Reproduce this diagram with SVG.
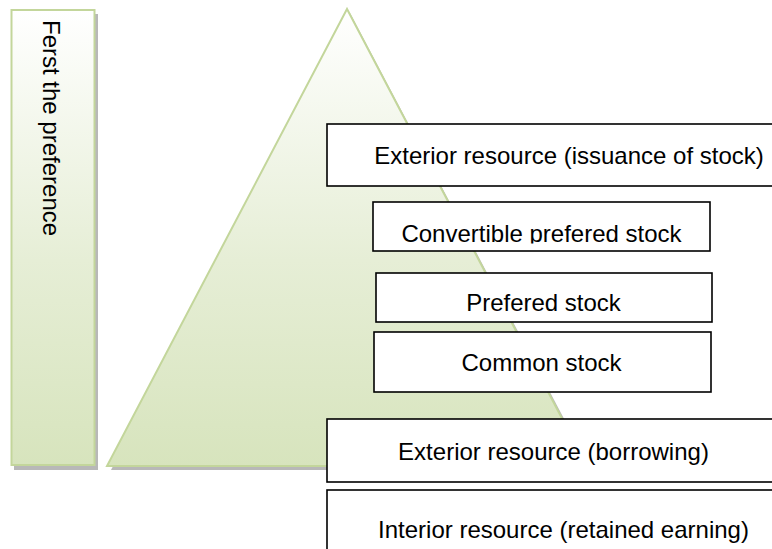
<svg xmlns="http://www.w3.org/2000/svg" width="772" height="549" viewBox="0 0 772 549">
  <style>
    .box { fill: #ffffff; stroke: #000000; stroke-width: 1.6; }
    .lbl { font-family: "Liberation Sans", Arial, sans-serif; font-size: 24px; fill: #000000; }
    .mid { text-anchor: middle; }
    .green { stroke: #c3d69b; stroke-width: 2; }
    .shadow { fill: #9a9a9a; opacity: 0.7; }
  </style>
  <defs>
    <linearGradient id="gBar" x1="0" y1="0" x2="0" y2="1">
      <stop offset="0" stop-color="#ffffff"/>
      <stop offset="0.55" stop-color="#e6eed6"/>
      <stop offset="1" stop-color="#d7e4bd"/>
    </linearGradient>
    <linearGradient id="gTri" x1="0" y1="0" x2="0" y2="1">
      <stop offset="0" stop-color="#ffffff"/>
      <stop offset="0.55" stop-color="#e6eed6"/>
      <stop offset="1" stop-color="#d7e4bd"/>
    </linearGradient>
    <clipPath id="clipConv">
      <rect x="373" y="202" width="337" height="41.5"/>
    </clipPath>
  </defs>

  <g id="preference-bar">
    <rect class="shadow" x="14" y="14" width="84" height="456"/>
    <rect class="green" x="11.5" y="10" width="83" height="455" fill="url(#gBar)"/>
    <text class="lbl" transform="translate(43,20) rotate(90)" x="0" y="0">Ferst the preference</text>
  </g>

  <g id="pyramid">
    <polygon class="shadow" points="350,13 111,470 591,470"/>
    <polygon class="green" points="347,9 107,466 587,466" fill="url(#gTri)"/>
  </g>

  <g id="connectors"></g>

  <g id="node-issuance">
    <rect class="box" x="327" y="124" width="460" height="62"/>
    <text class="lbl mid" x="569" y="164">Exterior resource (issuance of stock)</text>
  </g>

  <g id="node-convertible">
    <rect class="box" x="373" y="202" width="337" height="49"/>
    <text class="lbl mid" x="541.5" y="242" clip-path="url(#clipConv)">Convertible prefered stock</text>
  </g>

  <g id="node-prefered">
    <rect class="box" x="376" y="273" width="336" height="49"/>
    <text class="lbl mid" x="543.5" y="311">Prefered stock</text>
  </g>

  <g id="node-common">
    <rect class="box" x="374" y="332" width="337" height="60"/>
    <text class="lbl mid" x="541.5" y="371">Common stock</text>
  </g>

  <g id="node-borrowing">
    <rect class="box" x="327" y="419" width="460" height="63"/>
    <text class="lbl mid" x="553.5" y="460">Exterior resource (borrowing)</text>
  </g>

  <g id="node-retained">
    <rect class="box" x="327" y="490" width="460" height="70"/>
    <text class="lbl mid" x="563.5" y="538">Interior resource (retained earning)</text>
  </g>
</svg>
